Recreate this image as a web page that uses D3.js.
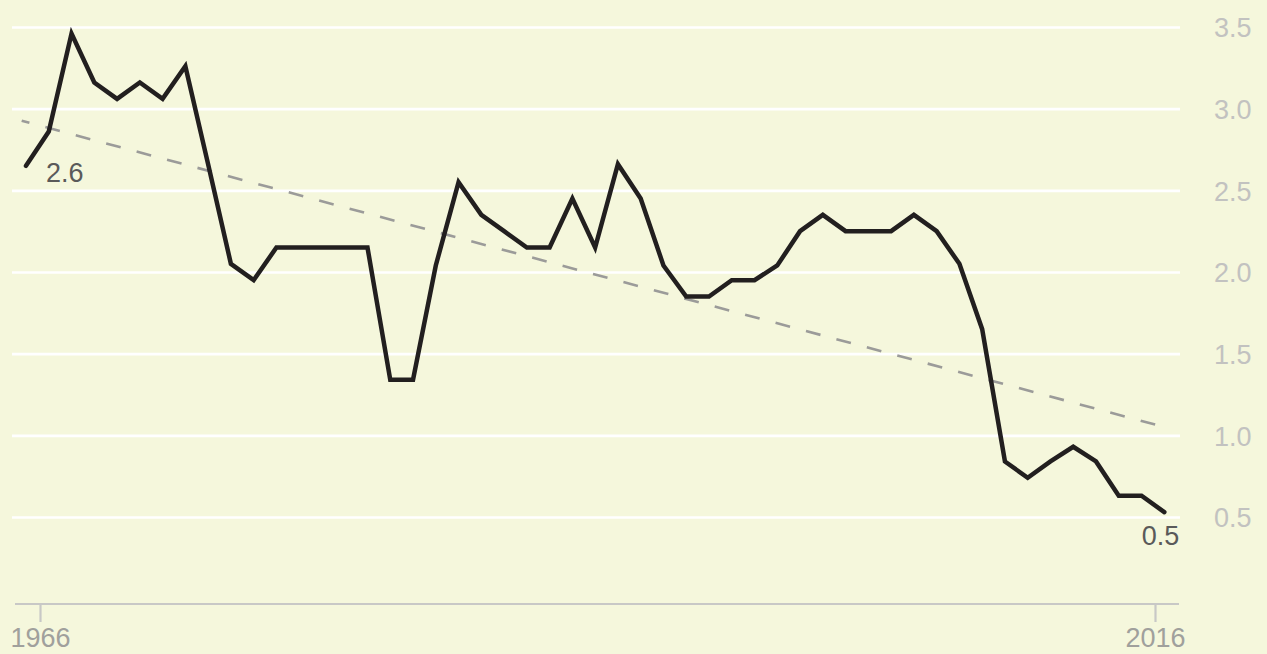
<!DOCTYPE html>
<html>
<head>
<meta charset="utf-8">
<script src="https://cdn.jsdelivr.net/npm/d3@7"></script>
<style>
  html, body { margin: 0; padding: 0; background: #f5f7dc; }
  svg { display: block; }
  text { font-family: "Liberation Sans", Arial, Helvetica, sans-serif; }
</style>
</head>
<body>
<svg id="chart" width="1267" height="654"></svg>
<script>
// ---- data ----
const years = [1966,1967,1968,1969,1970,1971,1972,1973,1974,1975,
  1976,1977,1978,1979,1980,1981,1982,1983,1984,1985,
  1986,1987,1988,1989,1990,1991,1992,1993,1994,1995,
  1996,1997,1998,1999,2000,2001,2002,2003,2004,2005,
  2006,2007,2008,2009,2010,2011,2012,2013,2014,2015,2016];
const values = [2.65,2.86,3.46,3.16,3.06,3.16,3.06,3.26,2.66,2.05,
  1.95,2.15,2.15,2.15,2.15,2.15,1.34,1.34,2.04,2.55,
  2.35,2.25,2.15,2.15,2.45,2.15,2.66,2.45,2.04,1.85,
  1.85,1.95,1.95,2.04,2.25,2.35,2.25,2.25,2.25,2.35,
  2.25,2.05,1.65,0.84,0.74,0.84,0.93,0.84,0.63,0.63,0.53];
const trendYears = [1965.81, 2016.1];
const trendValues = [2.926, 1.047];
const yTicks = [0.5, 1.0, 1.5, 2.0, 2.5, 3.0, 3.5];
const xTicks = [1966, 2016];
const pointLabels = ["2.6", "0.5"];

// ---- scales ----
const svg = d3.select("#chart");
const W = 1267, H = 654;
svg.append("rect").attr("width", W).attr("height", H).attr("fill", "#f5f7dc");

const x = d3.scaleLinear().domain([1966, 2016]).range([26, 1164.3]);
const xAxisScale = d3.scaleLinear().domain([1966, 2016]).range([40, 1155]);
const y = d3.scaleLinear().domain([0.5, 3.5]).range([517, 27]);

const gridLeft = 12, gridRight = 1180;

// ---- gridlines + y labels ----
const yAxis = d3.axisRight(y)
  .tickValues(yTicks)
  .tickSize(gridRight - gridLeft)
  .tickPadding(34)
  .tickFormat(d3.format(".1f"));
const gy = svg.append("g").attr("transform", `translate(${gridLeft},0)`).call(yAxis);
gy.select(".domain").remove();
gy.selectAll(".tick line").attr("stroke", "#ffffff").attr("stroke-width", 2.7);
gy.selectAll(".tick text")
  .attr("fill", "#c2c2c0")
  .attr("font-size", 27)
  .attr("dy", "0.36em");

// ---- x axis ----
const gx = svg.append("g").attr("transform", "translate(0,604)")
  .call(d3.axisBottom(xAxisScale).tickValues(xTicks).tickSize(18).tickPadding(6).tickFormat(d3.format("d")));
gx.select(".domain").remove();
gx.append("line").attr("x1", 15).attr("x2", 1179).attr("y1", 0).attr("y2", 0)
  .attr("stroke", "#c8c8c6").attr("stroke-width", 2.2);
gx.selectAll(".tick line").attr("stroke", "#c8c8c6").attr("stroke-width", 2.2);
gx.selectAll(".tick text").attr("fill", "#a0a09c").attr("font-size", 27);

// ---- trend line ----
const trend = trendYears.map((yr, i) => ({ year: yr, value: trendValues[i] }));
svg.append("path")
  .datum(trend)
  .attr("fill", "none")
  .attr("stroke", "#9b9b99")
  .attr("stroke-width", 2.6)
  .attr("stroke-dasharray", "15 16.5")
  .attr("stroke-dashoffset", 7)
  .attr("d", d3.line().x(d => x(d.year)).y(d => y(d.value)));

// ---- main line ----
const data = years.map((yr, i) => ({ year: yr, value: values[i] }));
svg.append("path")
  .datum(data)
  .attr("fill", "none")
  .attr("stroke", "#221f1f")
  .attr("stroke-width", 4.5)
  .attr("stroke-linejoin", "miter")
  .attr("stroke-linecap", "round")
  .attr("d", d3.line().x(d => x(d.year)).y(d => y(d.value)));

// ---- point labels ----
const first = data[0], last = data[data.length - 1];
svg.append("text")
  .attr("x", x(first.year) + 20)
  .attr("y", y(first.value) + 16)
  .attr("fill", "#5a5a5a")
  .attr("font-size", 27)
  .text(pointLabels[0]);
svg.append("text")
  .attr("x", x(last.year) + 15)
  .attr("y", y(last.value) + 33)
  .attr("text-anchor", "end")
  .attr("fill", "#5a5a5a")
  .attr("font-size", 27)
  .text(pointLabels[1]);
</script>
</body>
</html>
